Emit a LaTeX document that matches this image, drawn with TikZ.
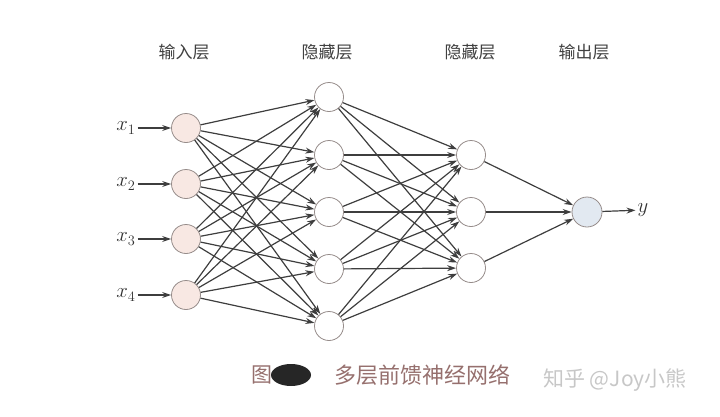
\documentclass[tikz,border=0pt]{standalone}
\usepackage{fontspec}
\newfontfamily\cjk{Noto Sans CJK SC}
\usetikzlibrary{arrows.meta}
\definecolor{inpink}{RGB}{248,232,227}
\definecolor{outblue}{RGB}{226,233,241}
\definecolor{ringgray}{RGB}{150,140,138}
\definecolor{edgegray}{RGB}{62,62,62}
\definecolor{capbrown}{RGB}{150,112,110}
\tikzset{
  neuron/.style={circle,draw=ringgray,line width=0.8pt,minimum size=29pt,inner sep=0pt,fill=white},
  conn/.style={-{Stealth[length=9pt,width=6pt]},edgegray,line width=1.2pt},
  layertitle/.style={font=\cjk\fontsize{17}{19}\selectfont,text=black!75},
  varlabel/.style={font=\fontsize{22}{24}\selectfont,text=black!80,inner sep=2pt}
}
\begin{document}
\begin{tikzpicture}[x=1pt,y=-1pt]
  \useasboundingbox (0,0) rectangle (720,416);
  % layer titles
  \node[layertitle] (t1) at (184,52) {输入层};
  \node[layertitle] (t2) at (327,52) {隐藏层};
  \node[layertitle] (t3) at (470,52) {隐藏层};
  \node[layertitle] (t4) at (584,52) {输出层};
  % neurons
  \foreach \i/\y in {1/128,2/184,3/239,4/295}{
    \node[neuron,fill=inpink] (in\i) at (186,\y) {};
    \node[varlabel] (x\i) at (126,\y) {$x_{\i}$};
    \draw[conn] (x\i) -- (in\i);
  }
  \foreach \j/\y in {1/97,2/155,3/212,4/269,5/326}
    \node[neuron] (ha\j) at (329,\y) {};
  \foreach \k/\y in {1/155,2/212,3/268}
    \node[neuron] (hb\k) at (471,\y) {};
  \node[neuron,fill=outblue,minimum size=30pt] (out) at (587,212) {};
  \node[varlabel] (yout) at (643,210) {$y$};
  % connections
  \foreach \i in {1,...,4}
    \foreach \j in {1,...,5}
      \draw[conn] (in\i) -- (ha\j);
  \foreach \j in {1,...,5}
    \foreach \k in {1,2,3}
      \draw[conn] (ha\j) -- (hb\k);
  \foreach \k in {1,2,3}
    \draw[conn] (hb\k) -- (out);
  \draw[conn] (out) -- (yout);
  % caption
  \node[font=\cjk\fontsize{21}{23}\selectfont,text=capbrown] (fig) at (262,375) {图};
  \fill[black!85] (291,375) ellipse (20pt and 11pt);
  \node[font=\cjk\fontsize{22}{24}\selectfont,text=capbrown] (cap) at (422,375) {多层前馈神经网络};
  \node[font=\cjk\fontsize{21}{23}\selectfont,text=black!22] (mark) at (615,380) {知乎 @Joy小熊};
\end{tikzpicture}
\end{document}
